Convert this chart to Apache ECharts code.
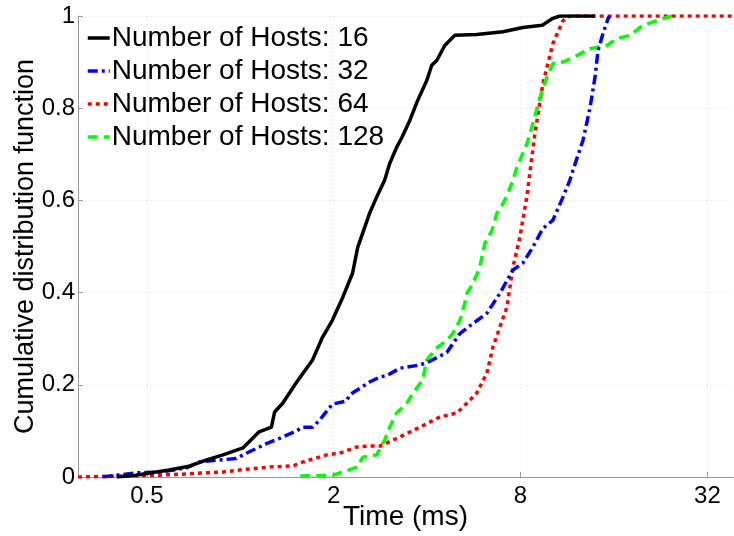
<!DOCTYPE html>
<html>
<head>
<meta charset="utf-8">
<title>CDF of time</title>
<script src="https://cdn.jsdelivr.net/npm/echarts@6/dist/echarts.min.js"></script>
<style>
  html, body { margin: 0; padding: 0; background: #fff; }
  #chart { width: 734px; height: 536px; }
</style>
</head>
<body>
<div id="chart"></div>
<script>
// time (ms) and cumulative fraction
const hosts16Time = [0.40, 0.46, 0.59, 0.69, 0.78, 0.88, 1.02, 1.15, 1.26, 1.29, 1.37, 1.52, 1.71, 1.84, 1.98, 2.14, 2.30, 2.39, 2.48, 2.61, 2.75, 2.92, 3.03, 3.19, 3.32, 3.52, 3.73, 3.99, 4.14, 4.30, 4.56, 4.73, 4.91, 5.78, 7.02, 8.14, 9.40, 10.17, 10.71, 13.9];
const hosts16Cdf  = [0, 0.004, 0.015, 0.024, 0.037, 0.048, 0.063, 0.098, 0.108, 0.141, 0.16, 0.206, 0.254, 0.303, 0.34, 0.39, 0.442, 0.498, 0.529, 0.572, 0.607, 0.644, 0.68, 0.715, 0.737, 0.774, 0.817, 0.86, 0.893, 0.904, 0.936, 0.947, 0.958, 0.96, 0.966, 0.975, 0.98, 0.995, 1, 1];

const hosts32Time = [0.36, 0.46, 0.56, 0.67, 0.74, 0.86, 0.97, 1.05, 1.22, 1.34, 1.52, 1.58, 1.71, 1.80, 1.98, 2.20, 2.25, 2.61, 2.82, 2.97, 3.27, 3.79, 4.02, 4.63, 5.10, 5.62, 6.23, 6.86, 7.56, 8.14, 8.77, 9.44, 10.17, 10.96, 11.54, 11.80, 12.71, 13.39, 13.90, 14.21, 14.75, 15.31, 15.5];
const hosts32Cdf  = [0, 0.009, 0.011, 0.02, 0.033, 0.037, 0.04, 0.052, 0.073, 0.084, 0.10, 0.108, 0.108, 0.123, 0.158, 0.165, 0.178, 0.206, 0.217, 0.22, 0.236, 0.243, 0.249, 0.27, 0.311, 0.333, 0.355, 0.398, 0.449, 0.464, 0.499, 0.539, 0.557, 0.607, 0.644, 0.665, 0.73, 0.80, 0.867, 0.925, 0.962, 0.994, 1];

const hosts64Time = [0.30, 0.55, 0.64, 0.78, 0.88, 1.05, 1.27, 1.48, 1.55, 1.67, 1.80, 1.90, 2.09, 2.14, 2.37, 2.61, 2.82, 3.27, 3.79, 4.39, 4.99, 5.37, 5.78, 6.23, 6.52, 6.86, 7.23, 7.56, 7.96, 8.39, 8.90, 9.44, 10.17, 10.96, 11.54, 38.7];
const hosts64Cdf  = [0, 0.004, 0.006, 0.009, 0.011, 0.017, 0.022, 0.024, 0.03, 0.037, 0.043, 0.048, 0.052, 0.054, 0.065, 0.067, 0.067, 0.087, 0.108, 0.13, 0.139, 0.16, 0.182, 0.225, 0.282, 0.325, 0.368, 0.455, 0.52, 0.61, 0.745, 0.853, 0.94, 0.99, 1, 1];

const hosts128Time = [1.56, 1.99, 2.14, 2.39, 2.48, 2.75, 2.92, 3.03, 3.19, 3.44, 3.60, 3.87, 3.99, 4.30, 4.63, 4.84, 5.10, 5.29, 5.37, 5.62, 5.91, 6.14, 6.47, 6.71, 7.02, 7.23, 7.56, 7.79, 8.39, 8.77, 9.24, 9.73, 10.17, 10.96, 12.16, 13.39, 15.19, 16.36, 18.02, 19.85, 22.02, 24.25, 24.6];
const hosts128Cdf  = [0.002, 0.004, 0.011, 0.022, 0.043, 0.048, 0.08, 0.108, 0.139, 0.16, 0.182, 0.21, 0.254, 0.28, 0.297, 0.311, 0.34, 0.377, 0.398, 0.42, 0.455, 0.507, 0.535, 0.572, 0.593, 0.61, 0.644, 0.672, 0.723, 0.767, 0.823, 0.867, 0.897, 0.9, 0.914, 0.929, 0.936, 0.951, 0.958, 0.98, 0.99, 0.999, 1];

const seriesNames = ['Number of Hosts: 16', 'Number of Hosts: 32', 'Number of Hosts: 64', 'Number of Hosts: 128'];
const xTicks = [0.5, 2, 8, 32];
const yTicks = [0, 0.2, 0.4, 0.6, 0.8, 1];

const FONT = 'Liberation Sans, Arial, sans-serif';

function pairs(xs, ys) {
    return xs.map(function (x, i) { return [x, ys[i]]; });
}

const chart = echarts.init(document.getElementById('chart'));

const option = {
    backgroundColor: '#ffffff',
    animation: false,
    textStyle: { fontFamily: FONT },
    grid: { left: 78, right: 1, top: 16, bottom: 59, outerBoundsMode: 'none', containLabel: false },
    legend: {
        orient: 'vertical',
        left: 81,
        top: 19,
        itemWidth: 22,
        itemHeight: 14,
        itemGap: 5,
        data: seriesNames,
        itemStyle: { color: 'transparent', borderWidth: 0, opacity: 0 },
        lineStyle: { width: 3.5 },
        textStyle: { fontSize: 28, color: '#000', fontFamily: FONT, padding: [0, 0, 0, -3] }
    },
    xAxis: {
        type: 'log',
        logBase: 2,
        min: 0.3,
        max: 38.7,
        name: 'Time (ms)',
        nameLocation: 'middle',
        nameGap: 26,
        nameMoveOverlap: false,
        nameTextStyle: { fontSize: 28, color: '#000', fontFamily: FONT },
        axisLine: { lineStyle: { color: '#9a9a9a', width: 1 } },
        axisTick: { inside: true, length: 5, customValues: xTicks, lineStyle: { color: '#9a9a9a' } },
        axisLabel: {
            customValues: xTicks,
            margin: 7,
            fontSize: 24,
            color: '#000',
            fontFamily: FONT,
            formatter: function (v) { return String(v); }
        },
        splitLine: { show: true, lineStyle: { color: '#e2e2e2', type: [1, 3] } },
        minorSplitLine: { show: false }
    },
    yAxis: {
        type: 'value',
        min: 0,
        max: 1,
        interval: 0.2,
        name: 'Cumulative distribution function',
        nameLocation: 'middle',
        nameGap: 39,
        nameMoveOverlap: false,
        nameTextStyle: { fontSize: 27, color: '#000', fontFamily: FONT },
        axisLine: { show: true, lineStyle: { color: '#9a9a9a', width: 1 } },
        axisTick: { show: true, inside: true, length: 5, lineStyle: { color: '#9a9a9a' } },
        axisLabel: {
            margin: 3,
            fontSize: 24,
            color: '#000',
            fontFamily: FONT,
            formatter: function (v) { return String(Math.round(v * 10) / 10); }
        },
        splitLine: { show: true, lineStyle: { color: '#e2e2e2', type: [1, 3] } }
    },
    series: [
        {
            name: seriesNames[0], type: 'line', symbol: 'none', z: 5,
            lineStyle: { color: '#000000', width: 3.5 },
            itemStyle: { color: '#000000' },
            data: pairs(hosts16Time, hosts16Cdf)
        },
        {
            name: seriesNames[1], type: 'line', symbol: 'none', z: 4,
            lineStyle: { color: '#0000ff', width: 3.5, type: [10, 4, 3, 4] },
            itemStyle: { color: '#0000ff' },
            data: pairs(hosts32Time, hosts32Cdf)
        },
        {
            name: seriesNames[2], type: 'line', symbol: 'none', z: 3,
            lineStyle: { color: '#ff0000', width: 3.5, type: [4, 4] },
            itemStyle: { color: '#ff0000' },
            data: pairs(hosts64Time, hosts64Cdf)
        },
        {
            name: seriesNames[3], type: 'line', symbol: 'none', z: 3,
            lineStyle: { color: '#00ff00', width: 3.5, type: [10, 6] },
            itemStyle: { color: '#00ff00' },
            data: pairs(hosts128Time, hosts128Cdf)
        }
    ]
};

chart.setOption(option);
</script>
</body>
</html>
